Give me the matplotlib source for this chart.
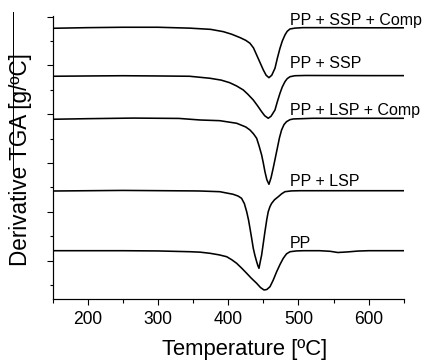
import matplotlib
matplotlib.use("Agg")
import matplotlib.pyplot as plt
from matplotlib.ticker import MultipleLocator, NullFormatter
from matplotlib.lines import Line2D

plt.rcParams['font.family'] = ['Liberation Sans', 'DejaVu Sans']

# temperature [ºC] / derivative TGA (offset curves, arbitrary units)
t_ssp_comp = [150, 200, 250, 300, 345, 375, 393, 405, 417, 425, 431, 436, 440.5, 445, 450, 454,
              458, 462, 466.6, 470, 473.7, 477, 480.8, 484, 488, 495, 506, 550, 600, 650]
d_ssp_comp = [4.762, 4.775, 4.783, 4.783, 4.765, 4.740, 4.693, 4.640, 4.570, 4.515, 4.455, 4.360,
              4.215, 4.070, 3.908, 3.800, 3.750, 3.800, 3.943, 4.150, 4.352, 4.500, 4.625, 4.700,
              4.748, 4.765, 4.775, 4.775, 4.772, 4.772]

t_ssp = [150, 200, 250, 300, 345, 374, 390, 402, 412, 421.5, 428, 435.7, 442, 447.6, 452, 457,
         461, 466.6, 470, 473.7, 477, 480.8, 484, 488, 495, 510, 600, 650]
d_ssp = [3.779, 3.785, 3.790, 3.785, 3.779, 3.738, 3.700, 3.648, 3.580, 3.498, 3.410, 3.293,
         3.170, 3.053, 2.970, 2.918, 2.960, 3.088, 3.260, 3.430, 3.560, 3.668, 3.730, 3.770,
         3.790, 3.795, 3.792, 3.792]

t_lsp_comp = [150, 200, 265, 330, 360, 388, 412, 425, 431, 436, 440.5, 444, 447.6, 450, 452.3,
              455, 458, 461, 464, 467, 469.9, 473, 476, 479.5, 483, 488, 492.6, 520, 600, 650]
d_lsp_comp = [2.898, 2.910, 2.922, 2.915, 2.883, 2.869, 2.816, 2.740, 2.678, 2.600, 2.508, 2.350,
              2.166, 2.000, 1.824, 1.660, 1.566, 1.700, 1.893, 2.100, 2.303, 2.520, 2.678, 2.790,
              2.848, 2.890, 2.904, 2.918, 2.918, 2.918]

t_lsp = [150, 250, 350, 360, 388, 407, 414, 419, 423, 426.3, 429, 431, 433.5, 435.7, 438, 440.5,
         442.2, 443.8, 445.5, 447.6, 450, 452.3, 455, 457, 459.5, 461.9, 466, 471.3, 476, 480.8,
         490, 502, 600, 650]
d_lsp = [1.428, 1.440, 1.430, 1.428, 1.414, 1.361, 1.325, 1.279, 1.170, 1.004, 0.830, 0.664,
         0.450, 0.254, 0.110, -0.020, -0.100, -0.156, -0.030, 0.117, 0.360, 0.594, 0.850, 1.004,
         1.110, 1.176, 1.250, 1.311, 1.370, 1.414, 1.430, 1.434, 1.434, 1.434]

t_pp = [150, 250, 300, 345.6, 360, 374, 387, 397.8, 405, 412, 419, 426.3, 433, 440.5, 446, 451,
        455, 459.5, 464, 469, 474, 478.4, 483, 488, 497, 507, 530, 545, 556, 570, 585, 600, 650]
d_pp = [0.205, 0.205, 0.200, 0.184, 0.175, 0.152, 0.120, 0.082, 0.020, -0.053, -0.150, -0.258,
        -0.360, -0.463, -0.550, -0.600, -0.590, -0.533, -0.400, -0.225, -0.070, 0.049, 0.140,
        0.184, 0.200, 0.205, 0.205, 0.193, 0.168, 0.180, 0.198, 0.205, 0.205]

labels = ["PP + SSP + Comp", "PP + SSP", "PP + LSP + Comp", "PP + LSP", "PP"]
label_y = [4.83, 3.943, 2.986, 1.527, 0.254]
label_x = 487.5

fig = plt.figure(figsize=(6, 5), dpi=72)
ax = fig.add_axes([0.1218, 0.1694, 0.8129, 0.7862])

for t, d in [(t_ssp_comp, d_ssp_comp), (t_ssp, d_ssp), (t_lsp_comp, d_lsp_comp),
             (t_lsp, d_lsp), (t_pp, d_pp)]:
    ax.plot(t, d, color='black', lw=1.6)

for lab, y in zip(labels, label_y):
    ax.text(label_x, y, lab, fontsize=16, ha='left', va='baseline')

ax.set_xlim(150, 650)
ax.set_ylim(-0.785, 5.014)
ax.spines['top'].set_visible(False)
ax.spines['right'].set_visible(False)
for side in ['left', 'bottom']:
    ax.spines[side].set_linewidth(1.2)
ax.xaxis.set_major_locator(MultipleLocator(100))
ax.xaxis.set_minor_locator(MultipleLocator(50))
ax.yaxis.set_major_locator(MultipleLocator(1))
ax.yaxis.set_minor_locator(MultipleLocator(0.5))
ax.yaxis.set_major_formatter(NullFormatter())
ax.tick_params(which='major', length=6, width=1.1, labelsize=17.5)
ax.tick_params(which='minor', length=3.5, width=1.1)
ax.tick_params(axis='x', pad=6)

ax.set_xlabel("Temperature [ºC]", fontsize=22)
ax.set_ylabel("Derivative TGA [g/ºC]", fontsize=22.5)
ax.xaxis.set_label_coords(0.546, -0.143)
ax.yaxis.set_label_coords(-0.059, 0.493)

# thin line next to the y label, as in the source image
fig.add_artist(Line2D([12.7 / 432, 12.7 / 432], [1 - 12 / 360, 1 - 172 / 360],
                      transform=fig.transFigure, color='black', lw=1))

fig.savefig("out.png", dpi=72)
